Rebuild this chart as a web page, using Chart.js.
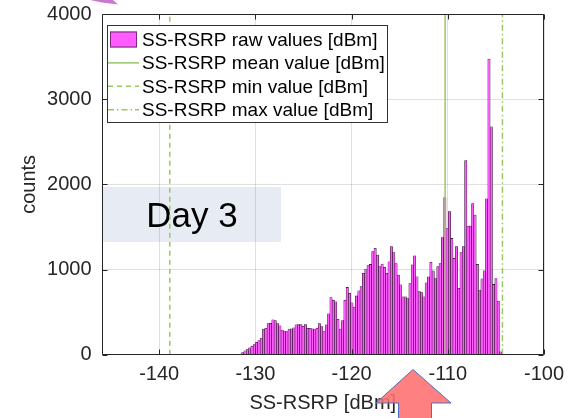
<!DOCTYPE html>
<html><head><meta charset="utf-8">
<script src="https://cdn.jsdelivr.net/npm/chart.js@4/dist/chart.umd.min.js"></script>
<style>html,body{margin:0;padding:0;background:#fff}#wrap{width:581px;height:418px;position:relative}</style>
</head><body><div id="wrap"><canvas id="c" width="581" height="418"></canvas></div>
<script>
// ---- data ----
const binStart = -131.44;   // left edge of first histogram bin [dBm]
const binWidth = 0.2415;    // histogram bin width [dBm]
const counts = [
  25,45,60,80,100,120,145,165,195,300,
  310,365,370,410,400,365,340,290,270,270,
  300,305,315,350,355,355,335,355,310,310,
  305,295,310,365,330,270,350,480,670,640,
  620,415,300,400,640,790,720,610,560,690,
  750,800,955,1005,1045,1060,1210,1250,1170,1035,
  1065,1025,955,1090,1270,1200,1070,935,820,680,
  680,660,835,1055,1160,915,740,730,680,845,
  915,1085,985,895,1035,1070,1375,1845,1480,1680,
  1365,1130,1270,780,1200,1270,2280,1510,1510,1775,
  1640,1060,760,890,985,1830,3470,2675,825,895,
  630,35
];
const meanValue = -110.28;
const minValue = -138.9;
const maxValue = -104.32;
const xRange = [-146, -100];
const yRange = [0, 4000];
const xTicks = [-140, -130, -120, -110, -100];
const yTicks = [0, 1000, 2000, 3000, 4000];
const seriesLabels = ['SS-RSRP raw values [dBm]', 'SS-RSRP mean value [dBm]', 'SS-RSRP min value [dBm]', 'SS-RSRP max value [dBm]'];
const xTitle = 'SS-RSRP [dBm]';
const yTitle = 'counts';
const noteText = 'Day 3';

// ---- styles ----
const FONT = "'Liberation Sans', Arial, sans-serif";
const MAGENTA = '#ff5cff';
const GREEN = 'rgb(150,200,100)';
const AXIS = '#262626';

const binCenters = counts.map((c, i) => binStart + binWidth * (i + 0.5));
const vline = v => [{x: v, y: yRange[0]}, {x: v, y: yRange[1]}];

const bgPlugin = {
  id: 'bg',
  beforeDraw(chart) {
    const ctx = chart.ctx;
    ctx.save();
    ctx.fillStyle = '#fff';
    ctx.fillRect(0, 0, chart.width, chart.height);
    // "Day 3" note box (pasted annotation)
    ctx.fillStyle = 'rgb(231,236,244)';
    ctx.fillRect(103, 187, 178, 55);
    ctx.fillStyle = '#000';
    ctx.font = '35px ' + FONT;
    ctx.textAlign = 'center';
    ctx.textBaseline = 'alphabetic';
    ctx.fillText(noteText, 192, 227);
    ctx.restore();
  }
};

const framePlugin = {
  id: 'frame',
  afterDatasetsDraw(chart) {
    const ctx = chart.ctx, a = chart.chartArea;
    const xs = chart.scales.x, ys = chart.scales.y;
    ctx.save();
    ctx.strokeStyle = AXIS;
    ctx.lineWidth = 1;
    ctx.beginPath();
    const L = Math.round(a.left) + 0.5, R = Math.round(a.right) - 0.5;
    const T = Math.round(a.top) + 0.5, B = Math.round(a.bottom) - 0.5;
    ctx.rect(L, T, R - L, B - T);
    xTicks.forEach(v => {
      const p = Math.round(xs.getPixelForValue(v)) + 0.5;
      ctx.moveTo(p, B); ctx.lineTo(p, B - 5);
      ctx.moveTo(p, T); ctx.lineTo(p, T + 5);
    });
    yTicks.forEach(v => {
      const p = Math.round(ys.getPixelForValue(v)) + 0.5;
      ctx.moveTo(L, p); ctx.lineTo(L + 5, p);
      ctx.moveTo(R, p); ctx.lineTo(R - 5, p);
    });
    ctx.stroke();

    // legend box
    const lx = 107.5, ly = 25.5, lw = 280, lh = 97;
    ctx.fillStyle = '#fff';
    ctx.fillRect(lx, ly, lw, lh);
    ctx.strokeStyle = '#333';
    ctx.strokeRect(lx, ly, lw, lh);
    const ds = chart.data.datasets;
    ctx.font = '19px ' + FONT;
    ctx.textAlign = 'left';
    ctx.textBaseline = 'middle';
    for (let i = 0; i < ds.length; i++) {
      const cy = 39.5 + i * 23.4;
      if (i === 0) {
        ctx.fillStyle = ds[0].backgroundColor;
        ctx.fillRect(110, cy - 8, 27, 16);
        ctx.strokeStyle = '#7a2a7a';
        ctx.lineWidth = 1;
        ctx.strokeRect(110.5, cy - 7.5, 26, 15);
      } else {
        ctx.strokeStyle = ds[i].borderColor;
        ctx.lineWidth = 1.5;
        ctx.setLineDash(ds[i].borderDash || []);
        ctx.beginPath();
        ctx.moveTo(108, cy); ctx.lineTo(139, cy);
        ctx.stroke();
        ctx.setLineDash([]);
      }
      ctx.fillStyle = '#000';
      ctx.fillText(ds[i].label, 142, cy + 1);
    }
    ctx.restore();
  },
  afterDraw(chart) {
    const ctx = chart.ctx;
    ctx.save();
    // decorative pasted arrows from the slide
    ctx.fillStyle = 'rgb(200,120,210)';
    ctx.beginPath();
    ctx.moveTo(90, 0); ctx.lineTo(113, 0); ctx.lineTo(118, 4.5); ctx.lineTo(102, 2.5); ctx.closePath();
    ctx.fill();

    ctx.beginPath();
    ctx.moveTo(413, 369.5);
    ctx.lineTo(451, 403);
    ctx.lineTo(431.5, 403);
    ctx.lineTo(431.5, 420);
    ctx.lineTo(398.5, 420);
    ctx.lineTo(398.5, 403);
    ctx.lineTo(376, 403);
    ctx.closePath();
    ctx.fillStyle = 'rgba(255,110,110,0.88)';
    ctx.fill();
    ctx.strokeStyle = '#4a72c0';
    ctx.lineWidth = 1;
    ctx.stroke();
    ctx.restore();
  }
};

new Chart(document.getElementById('c'), {
  type: 'bar',
  data: {
    datasets: [
      {
        type: 'bar', label: seriesLabels[0],
        data: binCenters.map((x, i) => ({x, y: counts[i]})),
        backgroundColor: MAGENTA, borderColor: '#1a0a1a', borderWidth: 0.55,
        barPercentage: 1, categoryPercentage: 1, order: 2
      },
      { type: 'line', label: seriesLabels[1], data: vline(meanValue), borderColor: GREEN, borderWidth: 1.5, pointRadius: 0, fill: false, order: 1 },
      { type: 'line', label: seriesLabels[2], data: vline(minValue), borderColor: GREEN, borderWidth: 1.5, borderDash: [5, 4], pointRadius: 0, fill: false, order: 1 },
      { type: 'line', label: seriesLabels[3], data: vline(maxValue), borderColor: GREEN, borderWidth: 1.5, borderDash: [6, 3, 1.5, 3], pointRadius: 0, fill: false, order: 1 }
    ]
  },
  options: {
    responsive: false, animation: false, devicePixelRatio: 1,
    layout: { padding: { left: 0, right: 37, top: 14, bottom: 0 } },
    plugins: { legend: { display: false }, tooltip: { enabled: false } },
    scales: {
      x: {
        type: 'linear', min: xRange[0], max: xRange[1], offset: false,
        afterFit(s) { s.height = 63.3; s.paddingLeft = 0; s.paddingRight = 0; },
        afterBuildTicks(s) { s.ticks = xTicks.map(v => ({value: v})); },
        ticks: { font: { size: 20, family: FONT }, color: AXIS, padding: 8, callback: v => String(v) },
        grid: { offset: false, color: 'rgba(0,0,0,0.12)', drawTicks: false },
        border: { display: false },
        title: { display: true, text: xTitle, font: { size: 20, family: FONT }, color: AXIS, padding: { top: 0, bottom: 3 } }
      },
      y: {
        type: 'linear', min: yRange[0], max: yRange[1],
        afterFit(s) { s.width = 101.5; s.paddingTop = 0; s.paddingBottom = 0; },
        afterBuildTicks(s) { s.ticks = yTicks.map(v => ({value: v})); },
        ticks: { font: { size: 20, family: FONT }, color: AXIS, padding: 10, callback: v => String(v) },
        grid: { color: 'rgba(0,0,0,0.12)', drawTicks: false },
        border: { display: false },
        title: { display: true, text: yTitle, font: { size: 20, family: FONT }, color: AXIS, padding: { top: 17, bottom: 0 } }
      }
    }
  },
  plugins: [bgPlugin, framePlugin]
});
</script></body></html>
